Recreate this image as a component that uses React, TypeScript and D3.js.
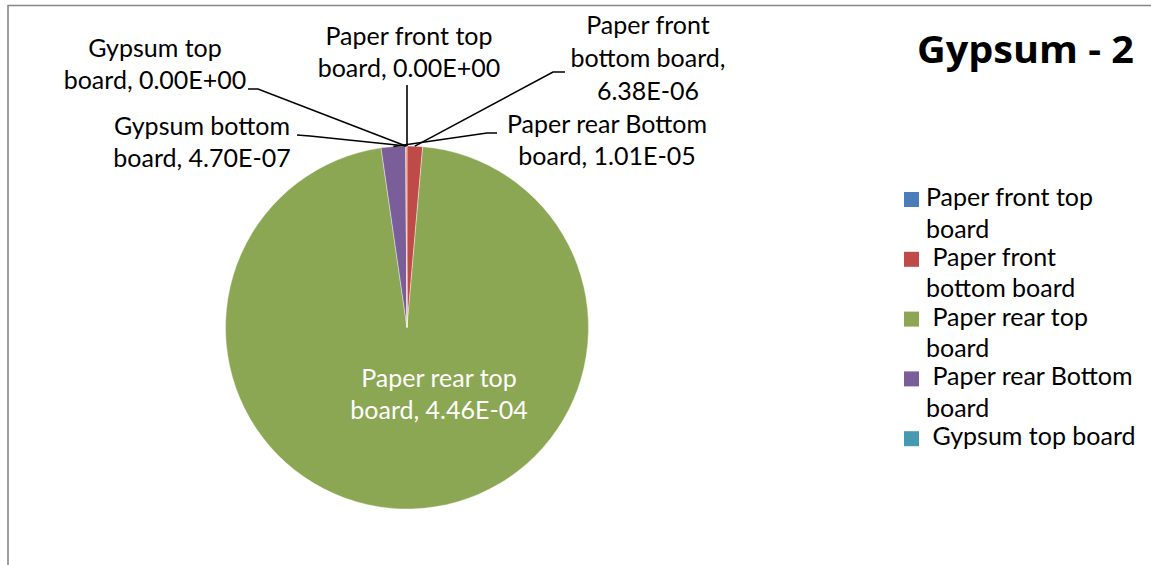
import React, { useEffect } from "react";
import * as d3 from "d3";

// Series: one value per board layer, in pie order (clockwise from 12 o'clock)
const categories = [
  "Paper front top board",
  "Paper front bottom board",
  "Paper rear top board",
  "Paper rear Bottom board",
  "Gypsum top board",
  "Gypsum bottom board",
];
const values = [0, 6.38e-6, 4.46e-4, 1.01e-5, 0, 4.7e-7];
const valueLabels = ["0.00E+00", "6.38E-06", "4.46E-04", "1.01E-05", "0.00E+00", "4.70E-07"];
const colors = ["#4A7EBB", "#BE4B48", "#8CA753", "#7A5E9A", "#4599B0", "#F08A3A"];

// Wrapped data-label text per slice
const dataLabelLines = [
  ["Paper front top", "board, " + valueLabels[0]],
  ["Paper front", "bottom board,", valueLabels[1]],
  ["Paper rear top", "board, " + valueLabels[2]],
  ["Paper rear Bottom", "board, " + valueLabels[3]],
  ["Gypsum top", "board, " + valueLabels[4]],
  ["Gypsum bottom", "board, " + valueLabels[5]],
];

// Legend entries as wrapped (only the first five fit in the legend box)
const legendLines = [
  ["Paper front top", "board"],
  [" Paper front", "bottom board"],
  [" Paper rear top", "board"],
  [" Paper rear Bottom", "board"],
  [" Gypsum top board"],
];

const title = "Gypsum - 2";

const W = 1151;
const H = 565;
const FONT = "Lato, 'Open Sans', sans-serif";
const TITLE_FONT = "'Open Sans', Lato, sans-serif";
const cx = 407;
const cy = 327.5;
const R = 181.5;

// Label block placement: centre x, first baseline, and leader path start/kink
const labelLayout = [
  { x: 409, y: 45, inside: false, leader: [[407, 85], [407, 85]] },
  { x: 648, y: 34, inside: false, leader: [[565, 72], [553, 72]] },
  { x: 439, y: 387, inside: true, leader: null },
  { x: 607, y: 133, inside: false, leader: [[497, 133], [487, 133]] },
  { x: 155, y: 57, inside: false, leader: [[248, 89], [258, 89]] },
  { x: 202, y: 135, inside: false, leader: [[297, 135], [310, 136]] },
];

export default function App() {
  useEffect(() => {
    document.body.style.margin = "0";
  }, []);

  const pie = d3
    .pie<number>()
    .sort(null)
    .value((d) => d)
    .startAngle(0)
    .endAngle(2 * Math.PI);
  const arcs = pie(values);
  const arc = d3.arc<d3.PieArcDatum<number>>().innerRadius(0).outerRadius(R);

  const edgePoint = (a: d3.PieArcDatum<number>) => {
    const m = (a.startAngle + a.endAngle) / 2;
    return [cx + R * Math.sin(m), cy - R * Math.cos(m)];
  };

  const lineH = 31.5;
  const line = d3.line();

  return (
    <svg width={W} height={H} style={{ display: "block" }} fontFamily={FONT}>
      <rect width={W} height={H} fill="#fff" />
      <path d={`M8,${H} V5.5 H${W}`} fill="none" stroke="#868686" strokeWidth={1.6} />

      <g transform={`translate(${cx},${cy})`}>
        {arcs.map((a, i) => (
          <path key={i} d={arc(a) || ""} fill={colors[i]} stroke="#fff" strokeWidth={0.4} />
        ))}
      </g>

      {arcs.map((a, i) => {
        const L = labelLayout[i];
        if (!L.leader) return null;
        const pts = [...L.leader, edgePoint(a)] as [number, number][];
        return <path key={"l" + i} d={line(pts) || ""} fill="none" stroke="#000" strokeWidth={1.6} />;
      })}

      {dataLabelLines.map((lines, i) => {
        const L = labelLayout[i];
        return (
          <text
            key={"t" + i}
            textAnchor="middle"
            fontSize={25}
            fill={L.inside ? "#fff" : "#000"}
          >
            {lines.map((s, j) => (
              <tspan key={j} x={L.x} y={L.y + j * (i === 1 ? 33 : lineH)}>
                {s}
              </tspan>
            ))}
          </text>
        );
      })}

      <text
        x={917}
        y={62.5}
        fontFamily={TITLE_FONT}
        fontSize={38}
        fontWeight="bold"
        fill="#000"
        textLength={217}
        lengthAdjust="spacingAndGlyphs"
      >
        {title}
      </text>

      {legendLines.map((lines, i) => {
        const top = 192 + i * 59.8;
        return (
          <g key={"g" + i}>
            <rect x={904} y={top} width={15} height={15} fill={colors[i]} />
            <text fontSize={25} fill="#000" xmlSpace="preserve" style={{ whiteSpace: "pre" }}>
              {lines.map((s, j) => (
                <tspan key={j} x={926} y={top + 14 + j * 31.5}>
                  {s}
                </tspan>
              ))}
            </text>
          </g>
        );
      })}
    </svg>
  );
}
